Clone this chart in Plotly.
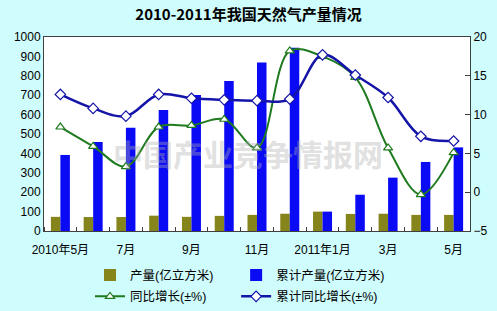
import plotly.graph_objects as go

months = ["2010年5月", "6月", "7月", "8月", "9月", "10月", "11月", "12月",
          "2011年1月", "2月", "3月", "4月", "5月"]
output_monthly = [73, 72, 72, 79, 73, 78, 83, 89, 100, 88, 89, 83, 83]
output_cumulative = [392, 459, 532, 624, 701, 773, 868, 945, 100, 187, 275, 356, 431]
yoy_growth = [8.4, 5.9, 3.3, 8.4, 8.6, 9.4, 5.7, 18.2, 17.5, 14.8, 5.7, -0.3, 5.1]
cum_yoy_growth = [12.6, 10.8, 9.8, 12.6, 12.1, 11.9, 11.8, 12.0, 17.7, 15.1, 12.2, 7.2, 6.6]
tick_idx = [0, 2, 4, 6, 8, 10, 12]

x = list(range(len(months)))
cjk = "Noto Sans CJK SC"
mixed = "Liberation Sans, Noto Sans CJK SC"

fig = go.Figure()
fig.add_trace(go.Bar(x=x, y=output_monthly, name="产量(亿立方米)", legend="legend",
                     legendgroup="a",
                     marker=dict(color="#85851C", line=dict(width=0))))
fig.add_trace(go.Bar(x=x, y=output_cumulative, name="累计产量(亿立方米)", legend="legend2",
                     legendgroup="b",
                     marker=dict(color="#0A0AF5", line=dict(width=0))))
fig.add_trace(go.Scatter(x=x, y=yoy_growth, name="同比增长(±%)", yaxis="y2", legend="legend",
                         legendgroup="c",
                         mode="lines+markers", line=dict(color="#1E7A1E", width=2, shape="spline"),
                         marker=dict(symbol="triangle-up", size=8, color="white",
                                     line=dict(color="#1E7A1E", width=1.2))))
fig.add_trace(go.Scatter(x=x, y=cum_yoy_growth, name="累计同比增长(±%)", yaxis="y2",
                         legend="legend2", legendgroup="d",
                         mode="lines+markers", line=dict(color="#1414A8", width=2.5, shape="spline"),
                         marker=dict(symbol="diamond", size=8, color="white",
                                     line=dict(color="#1414A8", width=1.2))))

fig.add_annotation(text="<b>中国产业竞争情报网</b>", x=0.48, y=0.4, xref="paper", yref="paper",
                   showarrow=False, font=dict(family=cjk, size=30, color="rgba(175,175,175,0.4)"))

legend_common = dict(orientation="v", xanchor="left", y=-0.152, yanchor="top",
                     traceorder="grouped", tracegroupgap=2,
                     font=dict(family=mixed, size=12.5, color="black"),
                     bgcolor="rgba(0,0,0,0)", borderwidth=0)

fig.update_layout(
    width=497, height=311,
    margin=dict(l=44, r=27, t=37, b=80, autoexpand=False),
    paper_bgcolor="#CFFCFC", plot_bgcolor="white",
    title=dict(text="<b>2010-2011年我国天然气产量情况</b>", x=0.5, xanchor="center",
               y=1 - 15 / 311, yanchor="middle", font=dict(family=cjk, size=15, color="black")),
    barmode="group", bargap=0.42, bargroupgap=0,
    font=dict(family="Liberation Sans", size=12, color="black"),
    showlegend=True,
    legend=dict(x=0.108, **legend_common),
    legend2=dict(x=0.451, **legend_common),
    xaxis=dict(range=[-0.5, 12.5], tickmode="array", tickvals=tick_idx,
               ticktext=[months[i] for i in tick_idx], ticks="", showgrid=False,
               showline=True, linecolor="#404040", linewidth=1, mirror=True,
               zeroline=False, tickfont=dict(family=mixed, size=12), ticklabelstandoff=8,
               minor=dict(tickmode="linear", tick0=-0.5, dtick=1, ticks="inside",
                          ticklen=4, tickcolor="#404040", showgrid=False)),
    yaxis=dict(range=[0, 1000], dtick=100, showgrid=False, showline=True,
               linecolor="#404040", linewidth=1, zeroline=False, ticks="",
               tickfont=dict(family="Liberation Sans", size=12)),
    yaxis2=dict(range=[-5, 20], dtick=5, overlaying="y", side="right", showgrid=False,
                showline=True, linecolor="#404040", linewidth=1, zeroline=False,
                ticks="inside", ticklen=5, tickcolor="#404040",
                tickfont=dict(family="Liberation Sans", size=12)),
)

fig.write_html("out.html")
